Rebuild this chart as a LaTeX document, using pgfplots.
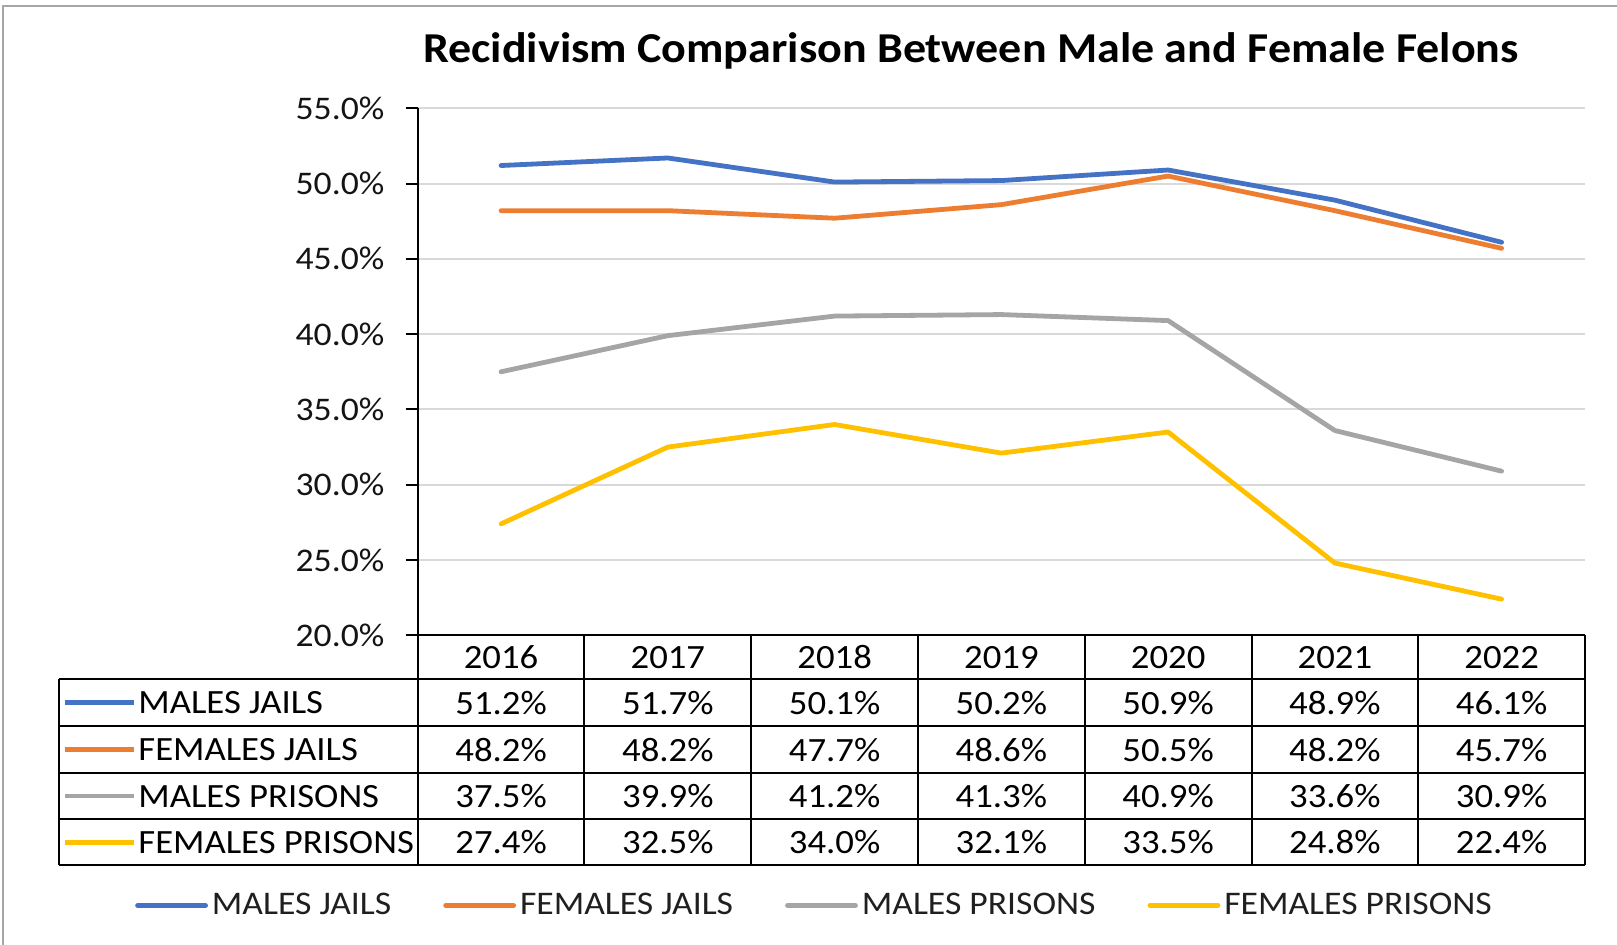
\documentclass[border=0pt]{standalone}
\usepackage{fontspec}
\setmainfont{Carlito}[FakeStretch=1.08]
\usepackage{pgfplots}
\usepackage{pgfplotstable}
\pgfplotsset{compat=1.18}
\definecolor{cBlue}{HTML}{4472C4}
\definecolor{cOrange}{HTML}{ED7D31}
\definecolor{cGray}{HTML}{A5A5A5}
\definecolor{cGold}{HTML}{FFC000}
\definecolor{cGrid}{HTML}{D9D9D9}
\definecolor{cBorder}{HTML}{A6A6A6}

\pgfplotstableread{
x mj fj mp fp
0 51.2 48.2 37.5 27.4
1 51.7 48.2 39.9 32.5
2 50.1 47.7 41.2 34.0
3 50.2 48.6 41.3 32.1
4 50.9 50.5 40.9 33.5
5 48.9 48.2 33.6 24.8
6 46.1 45.7 30.9 22.4
}\data

\begin{document}
\begin{tikzpicture}
\begin{axis}[
  at={(0,0)}, anchor=south west,
  scale only axis, width=583.65pt, height=263.5pt,
  xmin=-0.5, xmax=6.5, ymin=20, ymax=55,
  xtick=\empty,
  ytick={20,25,30,35,40,45,50,55},
  yticklabels={20.0\%,25.0\%,30.0\%,35.0\%,40.0\%,45.0\%,50.0\%,55.0\%},
  ymajorgrids, major grid style={cGrid, line width=1pt},
  axis x line*=bottom, axis y line*=left,
  axis line style={black, line width=1pt, -},
  ytick align=outside, major tick length=6pt,
  tick style={black, line width=1pt},
  yticklabel style={font=\fontsize{16.5}{19}\selectfont, text=black!92, inner xsep=0pt, xshift=-10.5pt},
  clip=false,
  legend columns=4,
  legend style={at={(0.3408,-0.5127)}, anchor=center, draw=none, fill=none,
    font=\fontsize{16.5}{19}\selectfont, text=black!88,
    nodes={inner xsep=2pt, inner ysep=1pt},
    /tikz/every even column/.append style={column sep=24pt}},
  legend image code/.code={\draw[#1, line width=2.4pt] (0pt,0pt) -- (34pt,0pt);},
  every axis plot/.append style={line width=2.4pt, line join=round, line cap=round, no markers},
]
\addplot[cBlue] table[x=x, y=mj] {\data};
\addlegendentry{MALES JAILS}
\addplot[cOrange] table[x=x, y=fj] {\data};
\addlegendentry{FEMALES JAILS}
\addplot[cGray] table[x=x, y=mp] {\data};
\addlegendentry{MALES PRISONS}
\addplot[cGold] table[x=x, y=fp] {\data};
\addlegendentry{FEMALES PRISONS}
\end{axis}

\begin{scope}[x=0.5pt, y=-0.5pt, shift={(-208.85pt,317.65pt)}]
  % border
  \draw[cBorder, line width=1pt] (3,945) -- (3,6) -- (1617,6);
  % title
  \node[font=\fontsize{21.3}{25}\selectfont\bfseries] at (971,50.5) {Recidivism Comparison Between Male and Female Felons};
  % table grid
  \begin{scope}[line width=1pt, black]
    \draw (417.7,635.5) -- (1585,635.5);
    \foreach \yy in {679,726.5,772.7,819.5,865.5} {\draw (58.8,\yy) -- (1585,\yy);}
    \draw (58.8,679) -- (58.8,865.5);
    \foreach \k in {0,...,7} {\draw ({417.7+166.76*\k},635.5) -- ({417.7+166.76*\k},865.5);}
  \end{scope}
  % header years
  \foreach \yr [count=\i from 0] in {2016,2017,2018,2019,2020,2021,2022} {
    \node[font=\fontsize{17}{20}\selectfont] at ({501.1+166.76*\i},657.5) {\yr};
  }
  % row labels with keys
  \foreach \lab/\col/\yc in {MALES JAILS/cBlue/702.7, FEMALES JAILS/cOrange/749.6, MALES PRISONS/cGray/796.1, FEMALES PRISONS/cGold/842.5} {
    \draw[\col, line width=2.4pt] (65,\yc) -- (134,\yc);
    \node[anchor=west, inner xsep=0pt, font=\fontsize{17}{20}\selectfont] at (138,\yc) {\lab};
  }
  % values
  \foreach \col/\yc in {mj/702.7, fj/749.6, mp/796.1, fp/842.5} {
    \foreach \r in {0,...,6} {
      \pgfplotstablegetelem{\r}{\col}\of\data
      \node[font=\fontsize{17}{20}\selectfont] at ({501.1+166.76*\r},\yc)
        {\pgfmathprintnumber[fixed,fixed zerofill,precision=1,assume math mode=true]{\pgfplotsretval}\%};
    }
  }
  \pgfresetboundingbox
  \useasboundingbox (0,0) rectangle (1617,945);
\end{scope}
\end{tikzpicture}
\end{document}
